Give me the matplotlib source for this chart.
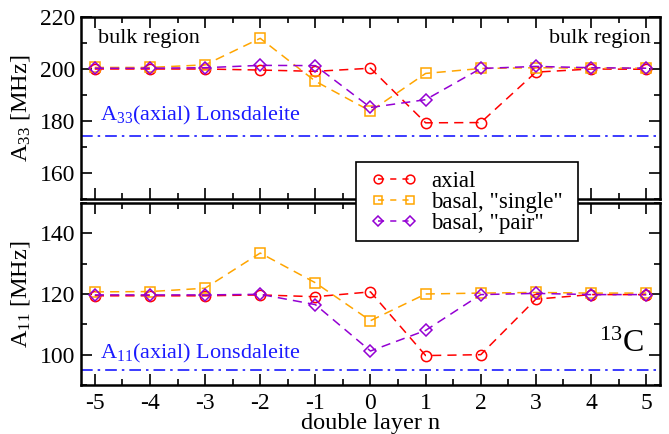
import matplotlib
matplotlib.use("Agg")
import matplotlib.pyplot as plt
from matplotlib.ticker import MultipleLocator
from matplotlib.lines import Line2D
from matplotlib.patches import Rectangle

plt.rcParams['font.family'] = ['Liberation Serif', 'DejaVu Serif']
plt.rcParams['mathtext.fontset'] = 'custom'
plt.rcParams['mathtext.rm'] = 'Liberation Serif'
plt.rcParams['mathtext.it'] = 'Liberation Serif:italic'

n = [-5, -4, -3, -2, -1, 0, 1, 2, 3, 4, 5]

a33_axial = [200.0, 200.0, 200.0, 199.6, 199.1, 200.3, 179.3, 179.4, 198.8, 200.0, 199.9]
a33_single = [200.6, 200.6, 201.6, 211.8, 195.3, 183.8, 198.3, 200.2, 200.5, 200.3, 200.3]
a33_pair = [200.3, 200.3, 200.5, 201.4, 201.3, 185.2, 188.2, 200.2, 201.0, 200.5, 200.3]

a11_axial = [119.4, 119.4, 119.4, 119.7, 119.1, 120.7, 99.7, 100.0, 118.3, 119.8, 119.8]
a11_single = [120.7, 120.8, 121.9, 133.5, 123.7, 111.2, 120.0, 120.3, 120.5, 120.3, 120.3]
a11_pair = [119.7, 119.7, 119.7, 119.9, 116.5, 101.2, 108.0, 119.8, 120.2, 119.8, 119.8]

lons_a33 = 174.3
lons_a11 = 95.0

series_names = ['axial', 'basal, "single"', 'basal, "pair"']
colors = ['#ff0000', '#ffa500', '#9400d3']
markers = ['o', 's', 'D']
msizes = [7.4, 7.4, 6.3]

W, H = 669, 434
fig = plt.figure(figsize=(W / 100, H / 100), dpi=100)
ax1 = fig.add_axes([0.1211, 0.5415, 0.8654, 0.4193])
ax2 = fig.add_axes([0.1211, 0.1129, 0.8654, 0.4194])

def style(ax):
    ax.set_xlim(-5.25, 5.25)
    ax.xaxis.set_major_locator(MultipleLocator(1))
    ax.xaxis.set_minor_locator(MultipleLocator(0.5))
    ax.yaxis.set_major_locator(MultipleLocator(20))
    ax.yaxis.set_minor_locator(MultipleLocator(10))
    ax.tick_params(which='both', direction='in', top=True, right=True, width=1.2)
    ax.tick_params(which='major', length=8, labelsize=17, pad=4)
    ax.tick_params(axis='x', which='major', pad=6)
    ax.tick_params(which='minor', length=4)
    for s in ax.spines.values():
        s.set_linewidth(1.8)

for ax, data, lons in [(ax1, [a33_axial, a33_single, a33_pair], lons_a33),
                       (ax2, [a11_axial, a11_single, a11_pair], lons_a11)]:
    for d, c, m, ms in zip(data, colors, markers, msizes):
        ax.plot(n, d, color=c, linestyle=(0, (6, 4)), linewidth=1.1,
                marker=m, markersize=ms, markerfacecolor='none',
                markeredgecolor=c, markeredgewidth=1.1)
    ax.axhline(lons, color='#1a1aff', linestyle=(0, (7, 3, 1.5, 3)), linewidth=1.2)
    style(ax)

ax1.set_ylim(150, 220)
ax2.set_ylim(90, 150)
ax1.tick_params(labelbottom=False)
ax2.set_xticks(n)
ax2.set_xticklabels([str(v) for v in n])

ax1.set_ylabel(r'A$_{33}$ [MHz]', fontsize=17.5, labelpad=6)
ax2.set_ylabel(r'A$_{11}$ [MHz]', fontsize=17.5, labelpad=6)
ax2.set_xlabel('double layer n', fontsize=17.5, labelpad=-1)

ax1.text(-4.95, 210, 'bulk region', fontsize=16, ha='left', va='baseline')
ax1.text(5.08, 210, 'bulk region', fontsize=16, ha='right', va='baseline')
ax1.text(-4.9, 180.2, r'A$_{33}$(axial) Lonsdaleite', fontsize=16, color='#1a1aff',
         ha='left', va='baseline')
ax2.text(-4.9, 98.8, r'A$_{11}$(axial) Lonsdaleite', fontsize=16, color='#1a1aff',
         ha='left', va='baseline')
ax2.text(4.95, 100.8, r'$^{13}$C', fontsize=23, ha='right', va='baseline')

# legend frame (spans both panels)
frame = Rectangle((356 / W, 1 - 241 / H), (578 - 356) / W, (241 - 162) / H,
                  transform=fig.transFigure, facecolor='white', edgecolor='black',
                  linewidth=1.2, zorder=5)
fig.patches.append(frame)

handles = [Line2D([0], [0], color=c, linestyle=(0, (4, 4)), linewidth=1.1,
                  marker=m, markersize=ms * 0.85, markerfacecolor='none',
                  markeredgecolor=c, markeredgewidth=1.1)
           for c, m, ms in zip(colors, markers, msizes)]
leg = fig.legend(handles, series_names, loc='upper left',
                 bbox_to_anchor=(371 / W, 1 - 171 / H), ncol=1, borderaxespad=0,
                 fontsize=16.5, numpoints=2, handlelength=2.0, handletextpad=0.62,
                 labelspacing=0.0, borderpad=0.0, frameon=False)
leg.set_zorder(10)

fig.savefig('out.png', dpi=100)
